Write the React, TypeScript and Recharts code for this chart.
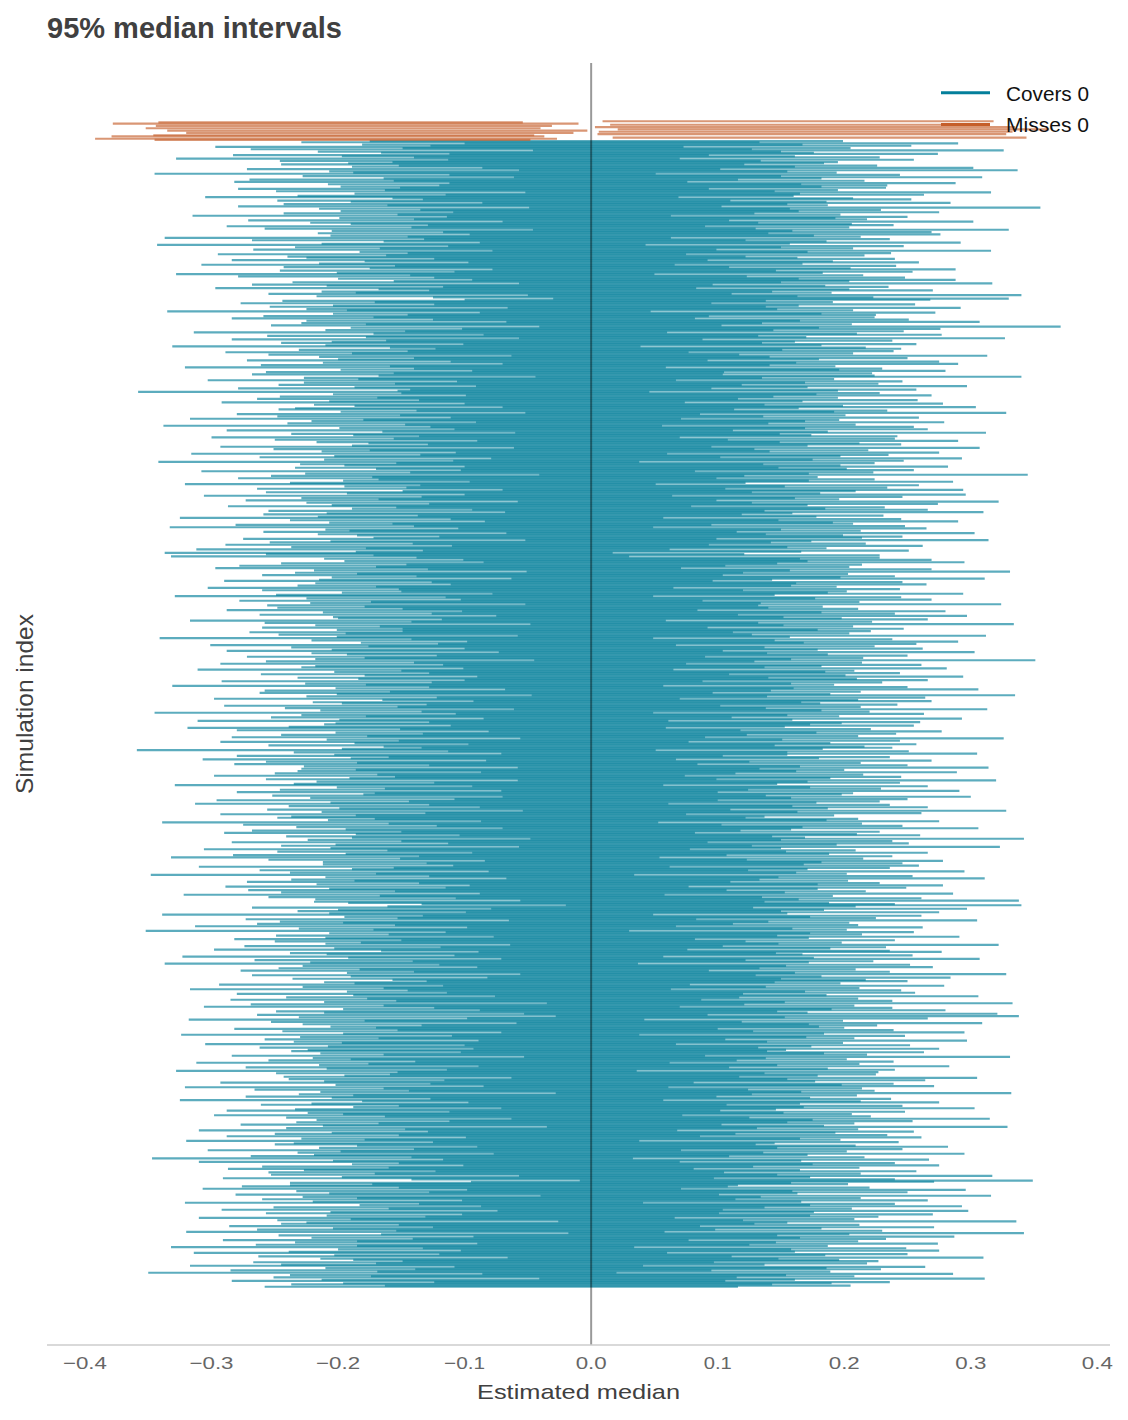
import { ScatterChart, Scatter, XAxis, YAxis, ErrorBar, ReferenceLine } from "recharts";

// x axis ticks
const xTicks = [-0.4, -0.3, -0.2, -0.1, 0, 0.1, 0.2, 0.3, 0.4];

// intervals that miss 0 (thousandths), drawn in the first rows
const missLow = [9, -342, -378, 15, -344, 3, -352, 21, -335, 6, -320, 5, -346, -379, 17, -392, -345];
const missHigh = [318, -54, -10, 302, -31, 335, -40, 362, -3, 333, -14, 328, -45, -37, 344, -27, -48];

// intervals that cover 0: estimated median and half width (thousandths)
const estimate = [
  12,-48,95,-7,63,-112,28,-71,140,-33,5,81,-95,-18,44,-129,71,-56,19,-4,
  -62,37,-14,108,-85,140,-26,3,-147,66,-39,124,9,-77,30,-103,88,-21,57,-8,
  41,-93,16,-52,132,-11,74,-36,-118,25,60,-69,-2,99,-44,13,-88,153,-29,47,
  -17,83,-57,22,-126,68,-3,39,-81,116,-45,8,55,-99,31,-64,142,-23,76,-38,
  90,-15,34,-137,52,-73,11,102,-28,-150,67,-42,20,-84,119,-6,46,-110,27,-59,
  -31,58,-96,6,81,-24,-121,43,-67,15,105,-50,73,-9,-139,36,-78,62,-18,97,
  24,-43,130,-86,-12,59,-107,18,71,-35,2,-72,145,-27,49,150,84,-53,10,-91,
  66,-20,-58,113,-39,7,-144,92,-11,40,-83,26,-101,63,-30,120,-47,14,-75,165,
  -5,87,-33,50,-127,19,96,-62,-4,135,-98,38,-22,-55,78,-14,-146,29,61,-40,
  47,-106,9,-69,125,-37,55,-10,-90,82,-25,110,-60,17,-131,45,-1,93,-76,33,
  -82,28,148,-46,4,-118,70,-29,36,-64,103,-8,-92,57,21,-156,39,-13,85,-51,
  13,-74,61,-20,-109,89,-41,6,117,-35,-67,48,-3,138,-97,25,-56,74,-123,8,
  -26,94,-50,31,-141,64,-15,79,-88,11,126,-44,-7,53,-115,42,-71,100,-34,18,
  58,-9,-99,123,-61,22,-36,84,-128,50,-3,-80,107,-18,69,-152,35,-47,1,91,
  -43,16,76,-113,40,-27,152,-66,3,-90,28,-12,95,-58,-135,62,-21,44,-79,112,
  30,-65,-6,98,-121,56,-34,14,-87,132,-49,73,-17,-104,39,-2,86,-59,121,-25,
  -70,47,-19,-134,67,-45,103,-8,25,-93,54,-142,80,-30,11,-72,118,-39,7,63,
  21,-88,131,-16,-56,38,-98,76,-41,4,-125,59,-10,-160,-68,28,-151,45,-23,84,
  -12,105,-49,34,-86,17,-113,70,-31,140,-57,9,-78,51,-4,124,-36,-97,60,-28,
  77,-37,12,-119,46,-70,26,-5,108,-52,-140,65,-24,83,-95,19,-44,136,-62,2,
  -54,31,-102,89,-15,57,-73,111,-26,-1,74,-129,40,-63,143,-33,20,-84,49,-11,
  36,-79,5,-60,127,-22,-146,48,-38,96,-7,68,-117,24,-50,81,-13,-92,115,-41,
  -3,64,-91,18,-30,153,-64,37,-109,72,-18,-46,90,-123,29,-9,58,-76,11,102,
  -46,13,83,-102,52,-34,7,-137,61,-21,119,-58,27,-83,-6,144,-43,71,-114,23,
  88,-27,-8,56,-94,30,-52,126,-16,43,-148,78,-37,9,-71,104,-20,-125,66,-2,
  -19,72,-43,-130,35,-81,98,-12,54,-61,17,-97,135,-29,46,-108,1,80,-55,26,
  52,-7,-154,69,-40,117,-24,-88,38,-5,-120,93,-66,14,-99,61,-31,128,-48,7,
  -35,101,-68,23,-112,45,-1,-79,131,-23,60,-44,-136,86,-14,33,-61,110,-90,18,
  9,-57,115,-32,71,-98,42,-14,-126,54,-40,89,-6,-73,137,-25,65,-109,3,-50,
  -63,20,-11,94,-143,27,-86,62,-33,118,-18,-75,39,-104,12,78,-49,-10,147,-37,
  44,-96,69,-4,-59,133,-28,-114,24,-47,86,-3,-88,51,-139,32,-66,97,-15,58,
  -22,75,-124,40,-9,-69,107,-38,16,-157,63,-31,122,-52,8,-81,46,-19,91,-106,
  67,-14,-82,31,-46,99,-132,12,-60,77,-27,141,-41,-2,53,160,24,-70,109,-8,
  -41,88,-26,-145,64,-11,36,-95,120,-53,4,-76,28,-123,82,-36,15,-161,70,-17,
  27,-51,107,-19,-100,45,-64,8,-31,129,-85,57,-7,-111,35,94,-46,-21,73,-133,
  -8,118,-72,41,-25,-150,66,-37,90,-57,13,-92,48,-16,136,-69,-4,101,-43,30,
  60,-33,5,-108,81,-45,24,-127,50,-12,71,-80,-1,115,-62,17,-99,42,-29,149,
  -74,22,-118,57,-3,96,-51,-20,134,-86,155,-39,84,-138,10,-67,125,-28,46,-13,
  15,-91,43,-58,112,-6,-143,69,-30,20,-76,104,-48,1,-119,76,-17,-65,91,-35,
  -49,80,-15,27,-97,139,-41,6,-70,50,-125,18,-34,97,-82,-11,63,-146,37,-56,
  33,-8,-63,121,-42,74,-17,-106,56,-2,93,-130,25,-71,40,-24,152,-52,11,-87,
  -16,55,-134,16,89,-28,-77,47,-10,116,-44,-93,68,-36,5,-113,29,-58,126,-21,
  71,-39,20,-87,-14,147,-55,32,-121,63,-6,-68,41,-101,81,-32,9,-141,59,-45,
  -60,12,96,-34,53,-116,2,-48,109,-24,-80,37,-157,75,-19,-120,44,-7,87,-66,
  26,-103,-31,67,-75,21,-53,130,-12,-97,49,170,88,-40,15,-61,-84,34,-118,99,
  -37,61,-22,-90,138,-47,14,-73,82,-27,-140,52,-5,103,-57,23,-94,112,-15,-78,
  84,-18,48,-122,9,-64,155,-35,-58,30,-100,73,-11,-83,38,-131,162,19,-50,97,
  -28,46,-107,13,-44,92,-70,1,-149,58,-21,86,-39,-127,65,-9,-76,122,-33,4,
  39,-85,24,-54,-138,78,-12,45,-95,10,-165,100,-42,17,-68,135,-26,-89,56,-3,
  -47,21,-71,
];

const halfWidth = [
  187,181,195,174,190,185,177,198,186,183,171,193,188,179,184,199,184,190,176,188,
  183,189,175,194,187,197,181,191,198,178,189,185,173,193,186,179,200,187,177,190,
  192,186,179,197,184,176,189,196,187,182,193,179,188,185,199,174,191,202,186,182,
  181,192,186,175,189,182,196,179,190,186,177,198,184,189,173,194,188,182,193,178,
  186,191,179,200,184,195,175,190,185,193,180,192,187,183,197,177,191,185,189,181,
  194,182,188,185,178,191,187,198,176,190,183,196,181,192,189,179,201,186,182,191,
  180,193,187,182,197,176,190,186,199,178,188,183,195,190,174,180,184,191,181,186,
  190,184,196,179,186,200,191,180,193,185,176,198,183,188,195,187,182,192,178,206,
  185,189,177,197,187,191,181,194,174,192,186,200,183,190,179,196,185,188,184,191,
  192,183,198,186,188,178,195,190,182,193,187,180,201,176,190,185,197,187,181,189,
  186,196,192,181,188,185,176,198,191,183,194,179,187,200,174,202,189,191,184,195,
  182,190,197,187,183,189,178,193,187,199,180,186,195,190,183,176,192,185,194,188,
  195,185,190,178,197,191,184,187,200,176,186,193,181,189,185,198,179,190,183,194,
  187,180,194,184,190,197,177,191,188,185,200,182,186,193,178,190,189,183,196,191,
  191,186,179,195,183,199,193,187,176,189,196,184,191,180,186,197,174,190,185,182,
  179,192,187,198,185,190,195,182,186,190,176,201,188,183,193,187,180,196,189,184,
  189,184,197,191,178,193,187,199,182,188,194,191,185,180,202,187,185,177,192,183,
  193,187,183,190,198,179,191,186,196,182,187,192,176,177,189,200,181,183,188,185,
  183,190,196,180,192,187,184,199,188,191,177,194,182,189,201,187,179,193,186,190,
  188,195,182,184,198,190,176,192,186,197,189,180,201,186,183,193,178,188,194,181,
  194,180,186,191,197,183,189,186,178,199,192,188,182,195,191,185,187,176,198,190,
  185,191,199,187,185,179,195,190,183,194,175,189,184,200,187,181,192,196,188,180,
  190,186,181,197,188,198,193,177,184,189,200,183,191,188,179,194,186,185,190,192,
  186,197,183,190,178,192,185,194,189,181,187,200,186,179,195,191,182,193,184,188,
  181,193,189,186,196,183,190,187,198,177,197,185,192,187,182,189,179,186,194,200,
  192,183,196,189,186,199,179,190,187,184,194,187,191,180,198,185,188,177,200,190,
  186,190,205,182,195,188,179,192,198,185,187,176,191,199,183,189,196,186,181,193,
  197,188,182,192,186,200,190,178,189,194,184,191,193,180,187,196,185,181,190,189,
  189,195,185,190,179,198,186,192,187,182,199,177,193,183,191,188,196,184,189,187,
  185,191,197,181,196,187,189,184,200,188,176,193,189,186,198,182,192,179,195,187,
  194,188,182,198,186,190,178,192,185,201,180,191,195,187,193,183,189,181,197,188,
  190,184,186,196,180,193,188,200,186,191,191,179,189,185,195,191,182,198,187,183,
  182,193,189,186,199,187,190,179,195,184,191,197,178,190,187,180,185,198,188,192,
  191,187,181,194,197,184,189,178,185,193,200,188,183,190,180,195,187,191,185,190,
  187,198,184,191,182,195,186,190,179,193,189,176,196,187,201,183,192,188,181,190,
  184,189,194,182,197,187,186,191,180,190,196,185,188,177,192,199,186,183,193,187,
  190,178,192,186,198,183,188,190,195,181,185,200,187,191,179,194,186,196,182,184,
  195,186,188,181,193,184,198,191,187,178,183,192,182,180,189,186,184,200,180,193,
  185,191,196,186,183,190,181,179,200,188,182,193,187,198,186,176,191,197,184,189,
  188,183,199,191,187,192,179,196,185,189,187,194,181,186,191,198,177,182,190,193,
  192,187,180,184,197,190,194,187,183,200,178,191,189,195,184,190,180,179,199,186,
  189,182,191,197,186,193,184,199,178,187,190,195,180,188,201,185,192,183,189,196,
  183,194,188,190,198,182,186,179,189,192,199,182,193,187,180,197,188,179,184,190,
  190,197,186,181,193,187,200,184,186,195,189,179,190,192,185,190,196,182,188,194,
  186,184,196,190,180,192,200,187,185,194,191,179,183,198,188,177,192,186,189,197,
  196,189,185,191,178,181,199,187,184,193,181,188,178,190,194,183,198,186,191,179,
  186,191,179,188,199,184,181,190,187,182,186,198,193,181,192,189,180,185,197,190,
  193,187,184,198,190,182,195,186,183,191,179,189,200,187,185,194,187,188,181,192,
  188,182,194,191,179,186,198,184,190,179,185,186,196,191,183,176,187,195,180,193,
  190,184,187,
];

const COVER = "#047f9b";
const MISS = "#c55e2a";
const FONT = "'Liberation Sans', Arial, sans-serif";

// each row: centre point plus error-bar offsets
const missRows = missLow.map((lo, i) => {
  const a = lo / 1000;
  const b = missHigh[i] / 1000;
  const mid = (a + b) / 2;
  return { idx: i, mid, err: [mid - a, b - mid] };
});
const coverRows = estimate.map((c, i) => ({
  idx: missLow.length + i,
  mid: c / 1000,
  err: halfWidth[i] / 1000,
}));
const lastRow = missRows.length + coverRows.length - 1;

const fmt = (v: number) => (v < 0 ? "\u2212" : "") + Math.abs(v).toFixed(1);

function Tick(props: any) {
  const { x, y, payload } = props;
  const label = fmt(payload.value);
  const len = (label.length > 3 ? 44 : 31) - (label.endsWith("1") ? 3 : 0);
  return (
    <text
      x={x}
      y={y}
      dy="0.71em"
      textAnchor="middle"
      fontSize={17}
      fontFamily={FONT}
      fill="#666"
      textLength={len}
      lengthAdjust="spacingAndGlyphs"
    >
      {label}
    </text>
  );
}

const noDot = () => <g />;

export default function App() {
  const pad = lastRow * 0.05;
  return (
    <div style={{ position: "absolute", left: 0, top: 0, width: 1128, height: 1420, background: "#fff" }}>
      <ScatterChart width={1128} height={1420} margin={{ top: 63, right: 18, bottom: 40, left: 47 }}>
        <XAxis
          type="number"
          dataKey="mid"
          domain={[-0.43, 0.41]}
          allowDataOverflow
          ticks={xTicks}
          interval={0}
          tick={(p: any) => <Tick {...p} />}
          tickLine={false}
          tickMargin={6}
          height={35}
          axisLine={{ stroke: "#cccccc", strokeWidth: 1.6 }}
        />
        <YAxis
          type="number"
          dataKey="idx"
          domain={[-pad, lastRow + pad]}
          allowDataOverflow
          reversed
          width={0}
          tick={false}
          tickLine={false}
          axisLine={{ stroke: "#cccccc", strokeWidth: 1.6 }}
        />
        <Scatter data={coverRows} shape={noDot} isAnimationActive={false}>
          <ErrorBar
            dataKey="err"
            direction="x"
            width={0}
            stroke={COVER}
            strokeOpacity={0.65}
            strokeWidth={2.2}
            isAnimationActive={false}
          />
        </Scatter>
        <Scatter data={missRows} shape={noDot} isAnimationActive={false}>
          <ErrorBar
            dataKey="err"
            direction="x"
            width={0}
            stroke={MISS}
            strokeOpacity={0.65}
            strokeWidth={2.2}
            isAnimationActive={false}
          />
        </Scatter>
        <ReferenceLine x={0} stroke="#000" strokeOpacity={0.4} strokeWidth={2} />
      </ScatterChart>

      {/* title, axis labels, legend */}
      <svg
        width={1128}
        height={1420}
        style={{ position: "absolute", left: 0, top: 0, pointerEvents: "none" }}
        fontFamily={FONT}
      >
        <text x={47} y={38} fontSize={29} fontWeight="bold" fill="#404040" textLength={295} lengthAdjust="spacingAndGlyphs">
          95% median intervals
        </text>
        <text x={578.5} y={1399} textAnchor="middle" fontSize={21} fill="#404040" textLength={203} lengthAdjust="spacingAndGlyphs">
          Estimated median
        </text>
        <text
          transform="translate(33,704) rotate(-90)"
          textAnchor="middle"
          fontSize={24}
          fill="#404040"
          textLength={180}
          lengthAdjust="spacingAndGlyphs"
        >
          Simulation index
        </text>
        <line x1={941} x2={990} y1={92.7} y2={92.7} stroke={COVER} strokeWidth={3} />
        <text x={1006} y={100.5} fontSize={20} fill="#111" textLength={83} lengthAdjust="spacingAndGlyphs">
          Covers 0
        </text>
        <line x1={941} x2={990} y1={124.4} y2={124.4} stroke={MISS} strokeWidth={3} />
        <text x={1006} y={132} fontSize={20} fill="#111" textLength={83} lengthAdjust="spacingAndGlyphs">
          Misses 0
        </text>
      </svg>
    </div>
  );
}
